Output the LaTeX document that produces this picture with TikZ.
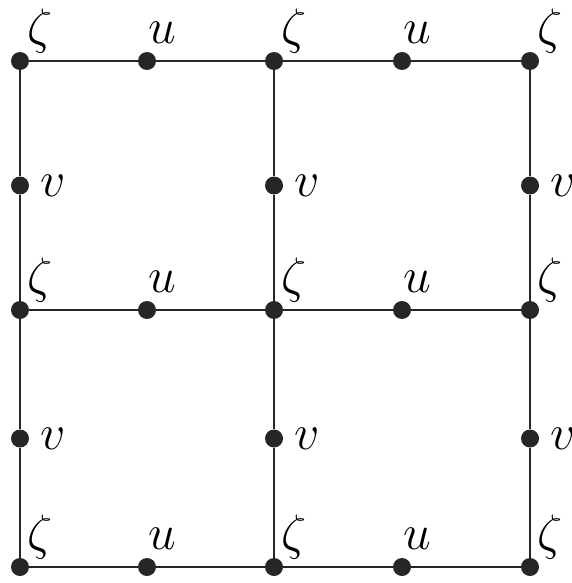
\documentclass[tikz,border=0pt]{standalone}
\usetikzlibrary{calc, positioning}

\begin{document}
\begin{tikzpicture}[x=0.5pt,y=-0.5pt,
  dot/.style={circle,fill=black!85,inner sep=0pt,minimum size=9pt},
  edge/.style={line width=1.3pt,black!85},
  lab/.style={inner sep=0pt,font=\fontsize{25}{30}\selectfont}]
\useasboundingbox (0,0) rectangle (572,583);

% corner points
\foreach \x [count=\i] in {20,274,530}
  \foreach \y [count=\j] in {61,310,567}
    \node[dot] (Z\j\i) at (\x,\y) {};

% points u on the rows, v on the columns
\foreach \j in {1,2,3}
  \foreach \i/\k in {1/2,2/3} {
    \node[dot] (U\j\i) at ($(Z\j\i)!0.5!(Z\j\k)$) {};
    \node[dot] (V\i\j) at ($(Z\i\j)!0.5!(Z\k\j)$) {};
  }

% grid lines
\foreach \j in {1,2,3} {
  \draw[edge] (Z\j1) -- (U\j1) -- (Z\j2) -- (U\j2) -- (Z\j3);
  \draw[edge] (Z1\j) -- (V1\j) -- (Z2\j) -- (V2\j) -- (Z3\j);
}

% labels
\foreach \j in {1,2,3}
  \foreach \i in {1,2,3}
    \node[lab,anchor=south west] (LZ\j\i) at ($(Z\j\i)+(7,-7)$) {$\zeta$};
\foreach \j in {1,2,3}
  \foreach \i in {1,2} {
    \node[lab,anchor=south west] (LU\j\i) at ($(U\j\i)+(1,-17)$) {$u$};
    \node[lab,anchor=west] (LV\i\j) at ($(V\i\j)+(20,0)$) {$v$};
  }
\end{tikzpicture}
\end{document}
